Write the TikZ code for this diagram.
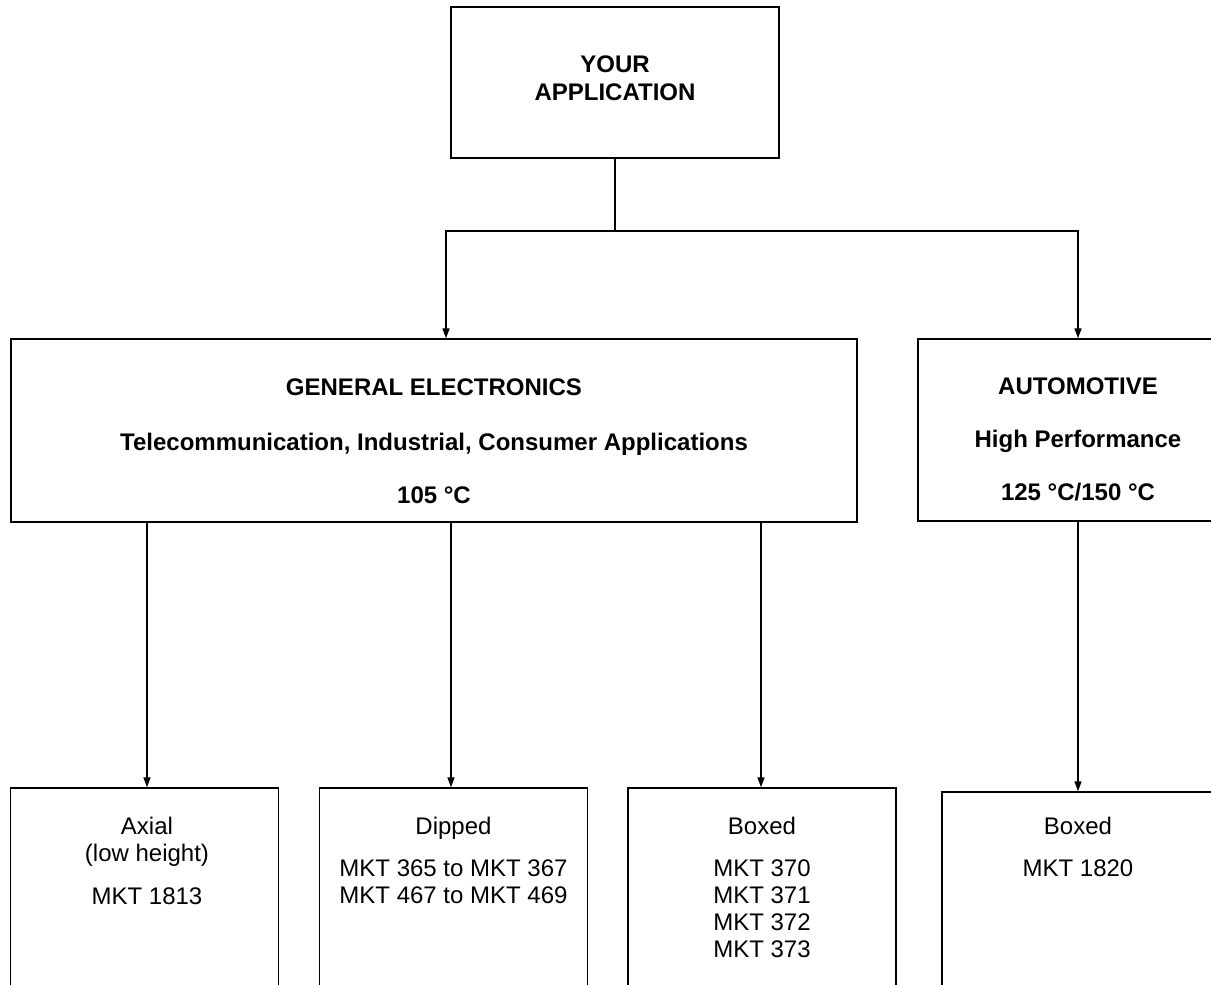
\documentclass[tikz,border=0pt]{standalone}
\usepackage{fontspec}
\setmainfont{Liberation Sans}
\usetikzlibrary{arrows.meta}

\begin{document}
\begin{tikzpicture}[x=0.5pt,y=-0.5pt,
  box/.style={draw,line width=0.7pt,inner sep=0pt},
  txt/.style={anchor=north,align=center,inner sep=0pt,font=\fontsize{12}{13.5}\selectfont},
  head/.style={txt,font=\fontsize{12}{13.5}\selectfont\bfseries},
  arrow/.style={line width=0.7pt,-{Triangle[length=5pt,width=3.5pt]}}]
\useasboundingbox (0,0) rectangle (1211,985);
\clip (0,0) rectangle (1211,985);

% Top box
\node[box,minimum width=164pt,minimum height=75.5pt] (app) at (615,82.5) {};
\node[head] (appT) at (615,55.4) {YOUR\\[0.5pt]APPLICATION};

% Application fields
\node[box,minimum width=423pt,minimum height=91.5pt] (gen) at (434,430.5) {};
\node[head] (genT) at (434,378.4) {GENERAL ELECTRONICS\\[14pt]Telecommunication, Industrial, Consumer Applications\\[13pt]105 °C};

\node[box,minimum width=160pt,minimum height=91pt] (auto) at (1078,430) {};
\node[head] (autoT) at (1078,377.4) {AUTOMOTIVE\\[13pt]High Performance\\[13pt]125 °C/150 °C};

% Product boxes
\node[box,minimum width=134pt,minimum height=125pt] (axial) at (144.5,913) {};
\node[txt] (axialT) at (147,817) {Axial\\(low height)\\[8pt]MKT 1813};

\node[box,minimum width=134pt,minimum height=125pt] (dip) at (453.5,913) {};
\node[txt] (dipT) at (453.5,817) {Dipped\\[7.5pt]MKT 365 to MKT 367\\MKT 467 to MKT 469};

\node[box,minimum width=134pt,minimum height=125pt] (boxd) at (762,913) {};
\node[txt] (boxdT) at (762,817) {Boxed\\[7.5pt]MKT 370\\MKT 371\\MKT 372\\MKT 373};

\node[box,minimum width=136pt,minimum height=125pt] (auxb) at (1078,917) {};
\node[txt] (auxbT) at (1078,817) {Boxed\\[7.5pt]MKT 1820};

% Connectors
\coordinate (split) at (615,231);
\draw[line width=0.7pt] (app.south) -- (split);
\draw[arrow] (split) -| ([xshift=6pt]gen.north);
\draw[arrow] (split) -| (auto.north);

\foreach \n/\d in {axial/1.25pt,dip/-1.25pt,boxd/-0.5pt}
  \draw[arrow] ([xshift=\d]gen.south -| \n.north) -- ([xshift=\d]\n.north);
\draw[arrow] (auto.south) -- (auxb.north);
\end{tikzpicture}
\end{document}
